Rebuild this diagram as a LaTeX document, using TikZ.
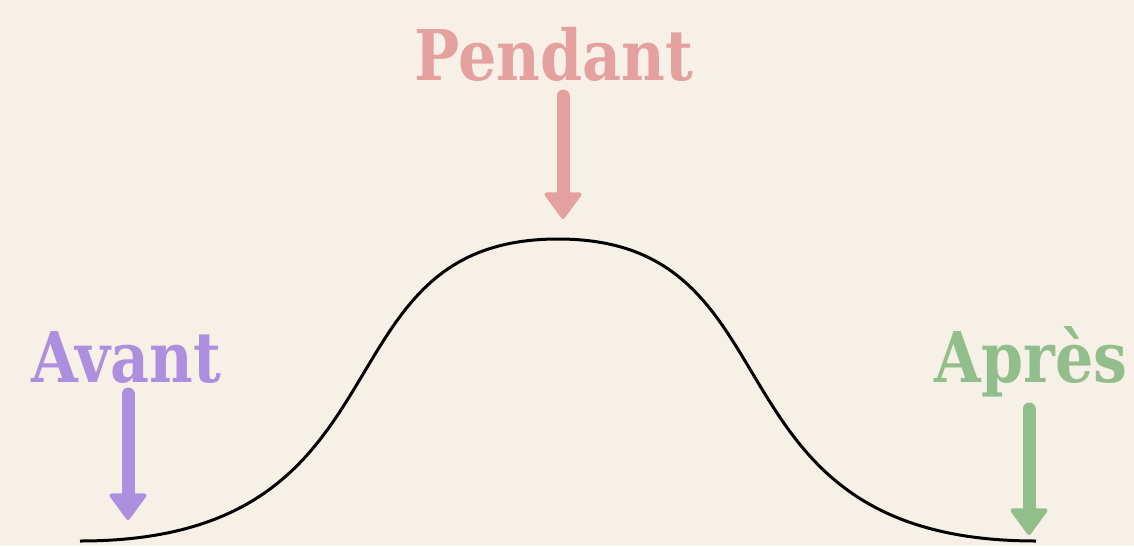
\documentclass[tikz,border=0pt]{standalone}
\usepackage{fontspec}
\setmainfont{DejaVu Serif}
\usetikzlibrary{arrows.meta}
\definecolor{bgc}{HTML}{F7F0E6}
\definecolor{pinkc}{HTML}{E5A0A0}
\definecolor{purplec}{HTML}{AD8FDF}
\definecolor{greenc}{HTML}{92BE8C}
\newcommand{\narrowtxt}[1]{\scalebox{0.86}[1]{#1}}
\tikzset{
  label/.style={font=\fontsize{70}{70}\selectfont\bfseries, inner sep=0pt, anchor=base},
  bigarrow/.style={line width=13pt, line cap=round,
    -{Triangle[width=40pt,length=28pt,line width=4pt,round]}},
}
\begin{document}
\begin{tikzpicture}[x=1pt,y=-1pt]
\fill[bgc] (0,0) rectangle (1134,546);
\useasboundingbox (0,0) rectangle (1134,546);
% curve
\coordinate (c0) at (80,541);
\coordinate (cpk) at (558,239);
\coordinate (c1) at (1036,541);
\draw[line width=3pt] (c0) .. controls (420,541) and (310,239) .. (cpk)
  .. controls (806,239) and (696,541) .. (c1);
% labels
\node[label, text=pinkc] (pendant) at (554,80) {\narrowtxt{Pendant}};
\node[label, text=purplec] (avant) at (126,382) {\narrowtxt{Avant}};
\node[label, text=greenc] (apres) at (1031,382) {\narrowtxt{Après}};
% arrows
\coordinate (ps) at (563,96);
\coordinate (pe) at (563,219);
\coordinate (as) at (128,394);
\coordinate (ae) at (128,520);
\coordinate (rs) at (1029,409);
\coordinate (re) at (1029,535);
\draw[bigarrow, pinkc] (ps) -- (pe);
\draw[bigarrow, purplec] (as) -- (ae);
\draw[bigarrow, greenc] (rs) -- (re);
\end{tikzpicture}
\end{document}
